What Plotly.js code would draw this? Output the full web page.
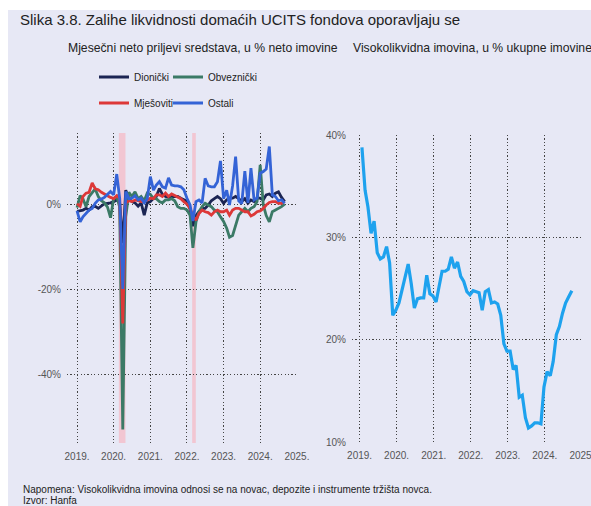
<!DOCTYPE html>
<html><head><meta charset="utf-8">
<script src="https://cdn.plot.ly/plotly-3.0.1.min.js"></script>
<style>
html,body{margin:0;padding:0;background:#ffffff;}
#chart{position:absolute;left:8px;top:10px;width:583px;height:496px;}
</style></head><body><div id="chart"></div>
<script>
// ---------- DATA ----------
const seriesNames = ['Dionički', 'Obveznički', 'Mješoviti', 'Ostali'];
const yearTicks = ['2019-01-01','2020-01-01','2021-01-01','2022-01-01','2023-01-01','2024-01-01','2025-01-01'];
const yearLabels = ['2019.','2020.','2021.','2022.','2023.','2024.','2025.'];
const leftTickVals = [0, -20, -40];
const leftTickText = ['0%', '-20%', '-40%'];
const rightTickVals = [10, 20, 30, 40];
const rightTickText = ['10%', '20%', '30%', '40%'];

// Monthly net inflows, % of net assets (Jan 2019 - Sep 2024)
const dionicki = [-1.5,-1.4,-1.2,-0.8,-1.2,-0.4,-0.3,-0.8,-0.3,0.3,
  0.4,0.5,0.8,1.2,0.5,-9.0,3.5,1.5,0.8,0.5,
  -0.3,0.5,-2.4,0.5,0.8,1.6,2.0,3.9,2.5,2.0,
  1.8,2.0,2.0,2.0,1.6,1.2,0.9,-1.0,-5.0,-2.5,
  -1.5,-0.8,-0.8,0.0,1.0,1.5,2.0,1.5,0.4,1.2,
  1.6,1.6,2.0,1.5,0.8,1.5,0.4,1.2,0.8,1.6,
  1.6,1.2,2.4,2.6,2.0,2.8,3.1,1.8,0.8];
const obveznicki = [-0.6,2.2,1.5,-0.4,2.0,3.0,3.8,2.0,1.0,0.5,
  -0.5,-3.0,1.5,2.0,-0.5,-53.0,-2.8,3.0,2.0,3.1,
  1.5,2.0,1.0,2.8,2.5,1.5,1.5,0.8,0.5,1.2,
  1.2,1.5,1.0,-0.4,-0.8,-0.8,-1.2,-2.4,-10.1,-4.0,
  -1.6,-0.4,0.4,0.0,-0.4,-1.2,-1.6,-2.8,-3.9,-5.5,
  -7.6,-7.2,-4.7,-2.4,-1.6,-0.8,-1.6,-0.8,-0.4,0.8,
  9.5,0.0,-2.5,-4.0,-1.6,-1.2,-0.8,-0.4,0.2];
const mjesoviti = [0.3,-0.3,2.0,2.8,3.0,5.2,3.8,3.6,3.0,2.6,
  2.0,1.8,1.5,2.2,1.6,-28.0,0.5,1.0,0.8,1.2,
  1.0,0.8,0.8,1.2,1.6,1.5,2.4,2.4,2.0,2.8,
  2.0,2.6,2.2,2.0,1.5,0.8,0.2,-0.8,-2.5,-3.6,
  -2.0,-1.2,-1.6,-1.8,-2.4,-1.6,-1.2,-1.6,-1.6,-1.2,
  -2.4,-1.2,-0.8,-0.8,-1.2,-1.6,-1.6,-2.6,-2.2,-1.6,
  -1.4,-0.8,0.0,0.6,0.8,0.8,0.4,0.4,0.8];
const ostali = [-1.4,-4.0,-2.8,-2.0,-1.2,-0.8,0.4,1.2,1.4,1.8,
  2.4,3.2,2.4,7.3,1.6,-19.8,3.2,1.5,1.6,2.2,
  1.2,1.6,0.5,1.5,6.7,3.5,4.7,5.5,4.3,4.0,
  6.4,4.7,4.5,4.5,4.3,3.6,1.6,0.0,-3.8,0.8,
  1.2,0.5,6.3,4.5,4.3,4.3,5.5,10.4,1.5,3.5,
  0.0,4.5,11.4,1.0,0.3,8.0,0.5,8.7,1.2,1.6,
  7.5,7.9,8.5,13.8,2.4,2.0,1.0,1.2,0.4];

// Highly liquid assets, % of total assets (Jan 2019 - Sep 2024)
const visokolikvidna = [38.8,34.6,33.0,30.4,31.6,28.5,27.9,28.1,29.1,27.5,
  22.4,22.9,23.6,25.0,26.2,27.4,25.5,23.1,24.0,24.1,
  24.1,26.3,24.5,24.3,23.7,25.3,26.7,26.7,26.9,28.1,
  27.0,27.6,26.2,25.7,24.7,24.4,24.8,24.7,24.6,22.9,
  24.7,24.9,23.6,23.7,23.5,22.4,19.6,18.9,18.9,17.1,
  17.5,14.4,14.6,12.4,11.4,11.6,11.9,11.9,11.8,15.4,
  16.9,16.5,17.9,20.5,21.3,22.6,23.6,24.2,24.8];

// shaded periods (left panel)
const bandStarts = ['2020-02-22', '2022-02-22'];
const bandEnds   = ['2020-04-28', '2022-03-30'];

// ---------- helpers ----------
function monthDates(y, m, n, day) {
  const out = [];
  for (let i = 0; i < n; i++) {
    const yy = y + Math.floor((m - 1 + i) / 12);
    const mm = ((m - 1 + i) % 12) + 1;
    out.push(yy + '-' + String(mm).padStart(2, '0') + '-' + String(day).padStart(2, '0'));
  }
  return out;
}
const leftMonths = monthDates(2019, 1, dionicki.length, 1);
const rightMonths = monthDates(2019, 1, visokolikvidna.length, 24);

const W = 583, H = 496;
const px = v => v / W;
const py = v => 1 - v / H;

const colors = ['#1c2553', '#3b7a66', '#dd3838', '#3463d6'];
const leftData = [dionicki, obveznicki, mjesoviti, ostali];
const legendIds = ['legend', 'legend2', 'legend3', 'legend4'];

const traces = leftData.map((d, i) => ({
  x: leftMonths, y: d, name: seriesNames[i], type: 'scatter', mode: 'lines',
  line: {color: colors[i], width: 2.8}, xaxis: 'x', yaxis: 'y',
  legend: legendIds[i], showlegend: true
}));
traces.push({
  x: rightMonths, y: visokolikvidna, name: 'Visokolikvidna imovina', type: 'scatter', mode: 'lines',
  line: {color: '#1ea2ee', width: 3.2}, xaxis: 'x2', yaxis: 'y2', showlegend: false
});

const gridStyle = {gridcolor: '#444444', griddash: '1.2px,2.2px', gridwidth: 1, showgrid: true,
  zeroline: false, showline: false, ticks: '', tickfont: {size: 10, color: '#555'}};

const legendBase = {orientation: 'h', xanchor: 'left', yanchor: 'middle',
  bgcolor: 'rgba(0,0,0,0)', borderwidth: 0, font: {size: 10, color: '#222'}};

const shapes = bandStarts.map((s, i) => ({
  type: 'rect', xref: 'x', yref: 'y domain', x0: s, x1: bandEnds[i], y0: 0, y1: 1,
  fillcolor: '#f2c6d2', line: {width: 0}, layer: 'below'
}));

const layout = {
  width: W, height: H,
  paper_bgcolor: '#e7e8f5', plot_bgcolor: '#e7e8f5',
  margin: {l: 0, r: 0, t: 0, b: 0},
  font: {family: 'Liberation Sans, Arial, sans-serif', size: 10, color: '#555'},
  title: {text: 'Slika 3.8. Zalihe likvidnosti domaćih UCITS fondova oporavljaju se',
    x: px(12), xanchor: 'left', xref: 'paper', y: py(10), yanchor: 'middle',
    font: {size: 15, color: '#222'}},
  xaxis: Object.assign({}, gridStyle, {type: 'date', domain: [px(59), px(289)], anchor: 'y',
    range: ['2018-09-23', '2025-01-02'], tickvals: yearTicks, ticktext: yearLabels, ticklabelstandoff: 6}),
  yaxis: Object.assign({}, gridStyle, {domain: [py(433), py(123)], anchor: 'x',
    range: [-56.2, 17], tickvals: leftTickVals, ticktext: leftTickText, ticklabelstandoff: 5}),
  xaxis2: Object.assign({}, gridStyle, {type: 'date', domain: [px(344), px(574)], anchor: 'y2',
    range: ['2018-10-18', '2025-01-02'], tickvals: yearTicks, ticktext: yearLabels, ticklabelstandoff: 6,
    ticklabeloverflow: 'allow'}),
  yaxis2: Object.assign({}, gridStyle, {domain: [py(432.3), py(125)], anchor: 'x2',
    range: [10, 40], tickvals: rightTickVals, ticktext: rightTickText, ticklabelstandoff: 5}),
  shapes: shapes,
  legend:  Object.assign({}, legendBase, {x: px(86),  y: py(67)}),
  legend2: Object.assign({}, legendBase, {x: px(160), y: py(67)}),
  legend3: Object.assign({}, legendBase, {x: px(86),  y: py(93)}),
  legend4: Object.assign({}, legendBase, {x: px(160), y: py(93)}),
  annotations: [
    {text: 'Mjesečni neto priljevi sredstava, u % neto imovine', xref: 'paper', yref: 'paper',
      x: px(58), y: py(38), xanchor: 'left', yanchor: 'middle', showarrow: false,
      font: {size: 12.2, color: '#222'}},
    {text: 'Visokolikvidna imovina, u % ukupne imovine', xref: 'paper', yref: 'paper',
      x: px(343), y: py(38), xanchor: 'left', yanchor: 'middle', showarrow: false,
      font: {size: 12.2, color: '#222'}},
    {text: 'Napomena: Visokolikvidna imovina odnosi se na novac, depozite i instrumente tržišta novca.',
      xref: 'paper', yref: 'paper', x: px(13), y: py(479), xanchor: 'left', yanchor: 'middle',
      showarrow: false, font: {size: 10, color: '#222'}},
    {text: 'Izvor: Hanfa', xref: 'paper', yref: 'paper', x: px(13), y: py(490),
      xanchor: 'left', yanchor: 'middle', showarrow: false, font: {size: 10, color: '#222'}}
  ],
  hovermode: false
};

Plotly.newPlot('chart', traces, layout, {staticPlot: true, displayModeBar: false});
</script></body></html>
